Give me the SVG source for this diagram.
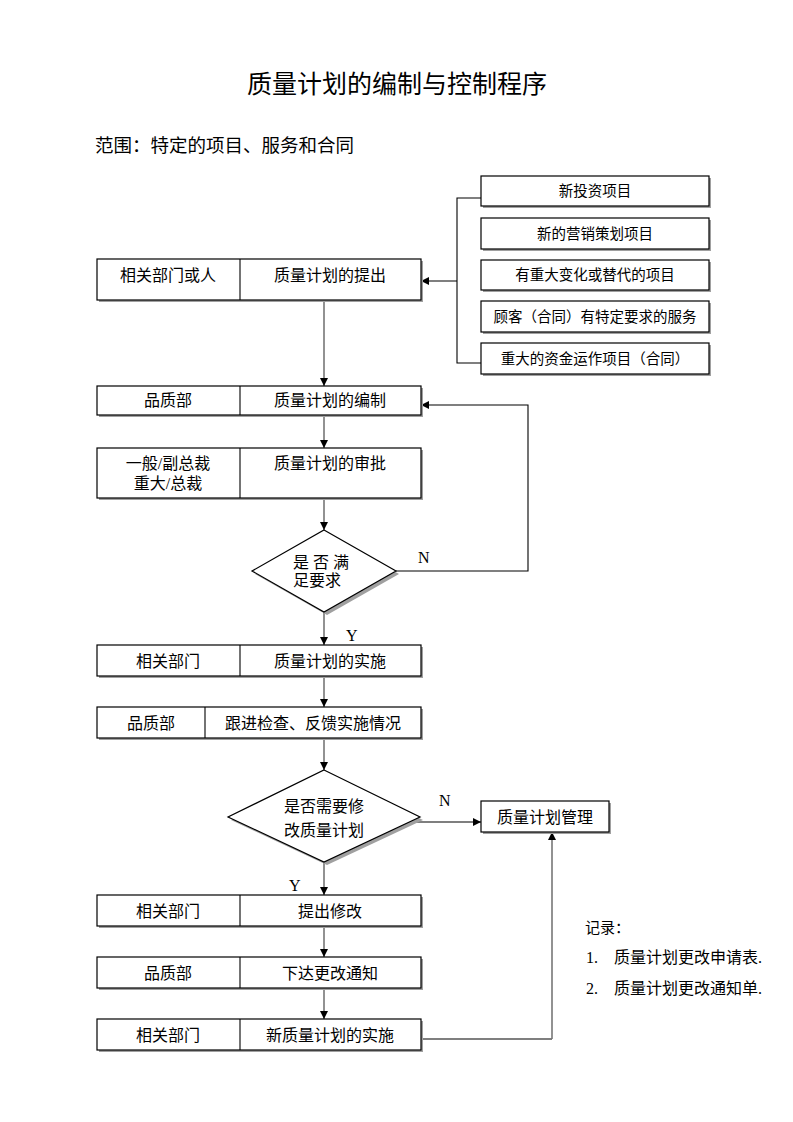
<svg xmlns="http://www.w3.org/2000/svg" width="793" height="1122" viewBox="0 0 793 1122">
<defs>
<marker id="ah" viewBox="0 0 10 10" refX="10" refY="5" markerWidth="8" markerHeight="8" markerUnits="userSpaceOnUse" orient="auto"><path d="M0,0 L10,5 L0,10 z" fill="#000"/></marker>
<style>
.box{fill:#fff;stroke:#000;stroke-width:1.2}
.sh{fill:#a0a0a0}
.t{font-family:"Liberation Serif","Noto Sans CJK SC",serif;font-size:16px;fill:#000;text-anchor:middle}
.ts{font-family:"Liberation Serif","Noto Sans CJK SC",serif;font-size:14.5px;fill:#000;text-anchor:middle}
.tl{font-family:"Liberation Serif","Noto Sans CJK SC",serif;font-size:16px;fill:#000}
.tr{font-family:"Liberation Serif","Noto Sans CJK SC",serif;font-size:16px;fill:#000}
.g{stroke:#777;stroke-width:1.6;fill:none}
.k{stroke:#000;stroke-width:1.1;fill:none}
</style>
</defs>
<rect width="793" height="1122" fill="#fff"/>
<text x="397" y="93" style="font-family:'Noto Sans CJK SC',sans-serif;font-size:25px;text-anchor:middle">质量计划的编制与控制程序</text>
<text x="95" y="152" style="font-family:'Noto Sans CJK SC',sans-serif;font-size:18.5px">范围：特定的项目、服务和合同</text>

<g id="connectors">
<path class="k" d="M481,198 H457 V363 H481"/>
<path class="k" d="M457,281 H421" marker-end="url(#ah)"/>
<path class="g" d="M324,300 V386" marker-end="url(#ah)"/>
<path class="g" d="M324,415 V448" marker-end="url(#ah)"/>
<path class="g" d="M324,498 V530" marker-end="url(#ah)"/>
<path class="k" d="M396,571 H528 V405 H421" marker-end="url(#ah)"/>
<path class="g" d="M324,612 V645" marker-end="url(#ah)"/>
<path class="g" d="M324,676 V707" marker-end="url(#ah)"/>
<path class="g" d="M324,738 V770" marker-end="url(#ah)"/>
<path class="k" d="M412,822 H481" marker-end="url(#ah)"/>
<path class="g" d="M324,862 V895" marker-end="url(#ah)"/>
<path class="g" d="M324,926 V957" marker-end="url(#ah)"/>
<path class="g" d="M324,988 V1019" marker-end="url(#ah)"/>
<path class="k" d="M421,1039 H552"/>
<path class="g" d="M552,1039 V832" marker-end="url(#ah)"/>
<text x="418" y="563" class="tl">N</text>
<text x="346" y="641" class="tl">Y</text>
<text x="439" y="806" class="tl">N</text>
<text x="289" y="891" class="tl">Y</text>
</g>

<g id="src1"><rect class="sh" x="483" y="178" width="228" height="30"/><rect class="box" x="481" y="176" width="228" height="30"/><text x="595" y="196" class="ts">新投资项目</text></g>
<g id="src2"><rect class="sh" x="483" y="220" width="228" height="31"/><rect class="box" x="481" y="218" width="228" height="31"/><text x="595" y="239" class="ts">新的营销策划项目</text></g>
<g id="src3"><rect class="sh" x="483" y="262" width="228" height="30"/><rect class="box" x="481" y="260" width="228" height="30"/><text x="595" y="280" class="ts">有重大变化或替代的项目</text></g>
<g id="src4"><rect class="sh" x="483" y="303" width="228" height="31"/><rect class="box" x="481" y="301" width="228" height="31"/><text x="595" y="322" class="ts">顾客（合同）有特定要求的服务</text></g>
<g id="src5"><rect class="sh" x="483" y="345" width="228" height="31"/><rect class="box" x="481" y="343" width="228" height="31"/><text x="595" y="364" class="ts">重大的资金运作项目（合同）</text></g>

<g id="n1"><rect class="sh" x="99" y="261" width="324" height="41"/><rect class="box" x="97" y="259" width="324" height="41"/><line class="k" x1="240" y1="259" x2="240" y2="300"/><text x="168" y="281" class="t">相关部门或人</text><text x="330" y="281" class="t">质量计划的提出</text></g>
<g id="n2"><rect class="sh" x="99" y="388" width="324" height="29"/><rect class="box" x="97" y="386" width="324" height="29"/><line class="k" x1="240" y1="386" x2="240" y2="415"/><text x="168" y="406" class="t">品质部</text><text x="330" y="406" class="t">质量计划的编制</text></g>
<g id="n3"><rect class="sh" x="99" y="450" width="324" height="50"/><rect class="box" x="97" y="448" width="324" height="50"/><line class="k" x1="240" y1="448" x2="240" y2="498"/><text x="168" y="469" class="t">一般/副总裁</text><text x="168" y="489" class="t">重大/总裁</text><text x="330" y="469" class="t">质量计划的审批</text></g>
<g id="d1"><polygon class="sh" points="327,533 399,574 327,615 255,574"/><polygon class="box" points="324,530 396,571 324,612 252,571"/><text x="293" y="568" class="tl">是 否 满</text><text x="293" y="586" class="tl">足要求</text></g>
<g id="n4"><rect class="sh" x="99" y="647" width="324" height="31"/><rect class="box" x="97" y="645" width="324" height="31"/><line class="k" x1="240" y1="645" x2="240" y2="676"/><text x="168" y="667" class="t">相关部门</text><text x="330" y="667" class="t">质量计划的实施</text></g>
<g id="n5"><rect class="sh" x="99" y="709" width="324" height="31"/><rect class="box" x="97" y="707" width="324" height="31"/><line class="k" x1="205" y1="707" x2="205" y2="738"/><text x="151" y="729" class="t">品质部</text><text x="313" y="729" class="t">跟进检查、反馈实施情况</text></g>
<g id="d2"><polygon class="sh" points="327,773 423,820 327,865 231,820"/><polygon class="box" points="324,770 420,817 324,862 228,817"/><text x="324" y="812" class="t">是否需要修</text><text x="324" y="836" class="t">改质量计划</text></g>
<g id="mgmt"><rect class="sh" x="483" y="803" width="128" height="31"/><rect class="box" x="481" y="801" width="128" height="31"/><text x="545" y="823" class="t">质量计划管理</text></g>
<g id="n6"><rect class="sh" x="99" y="897" width="324" height="31"/><rect class="box" x="97" y="895" width="324" height="31"/><line class="k" x1="240" y1="895" x2="240" y2="926"/><text x="168" y="917" class="t">相关部门</text><text x="330" y="917" class="t">提出修改</text></g>
<g id="n7"><rect class="sh" x="99" y="959" width="324" height="31"/><rect class="box" x="97" y="957" width="324" height="31"/><line class="k" x1="240" y1="957" x2="240" y2="988"/><text x="168" y="979" class="t">品质部</text><text x="330" y="979" class="t">下达更改通知</text></g>
<g id="n8"><rect class="sh" x="99" y="1021" width="324" height="31"/><rect class="box" x="97" y="1019" width="324" height="31"/><line class="k" x1="240" y1="1019" x2="240" y2="1050"/><text x="168" y="1041" class="t">相关部门</text><text x="330" y="1041" class="t">新质量计划的实施</text></g>

<g id="records">
<text x="585" y="933" style="font-family:'Noto Sans CJK SC',sans-serif;font-size:15px">记录：</text>
<text x="586" y="963" class="tr">1.</text><text x="614" y="963" class="tr">质量计划更改申请表.</text>
<text x="586" y="994" class="tr">2.</text><text x="614" y="994" class="tr">质量计划更改通知单.</text>
</g>
</svg>
